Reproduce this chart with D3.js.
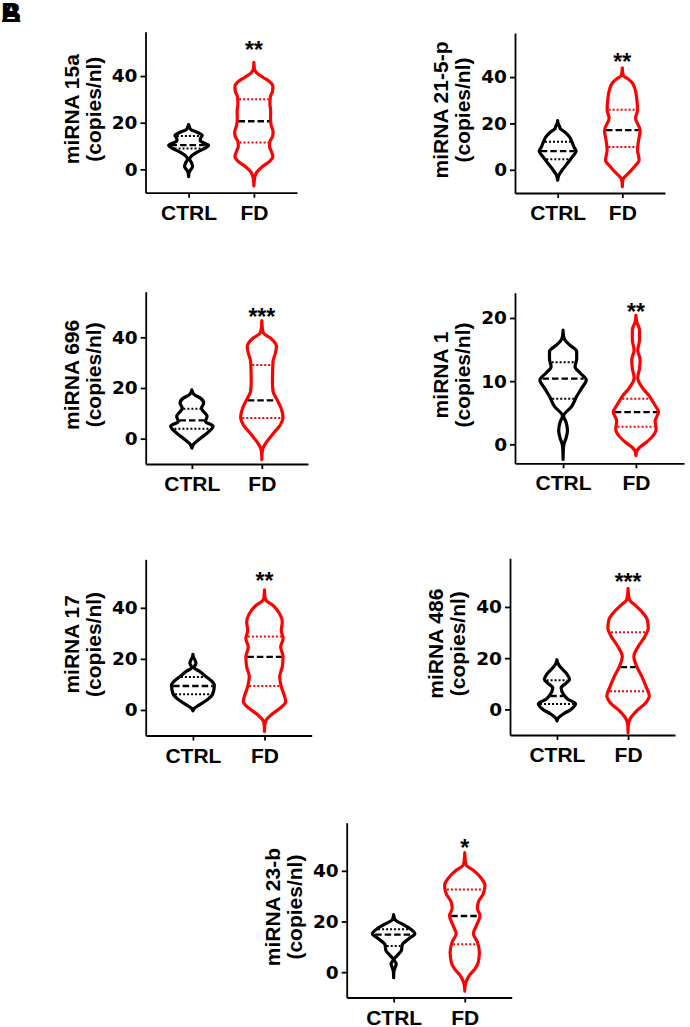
<!DOCTYPE html>
<html>
<head>
<meta charset="utf-8">
<script src="https://cdn.jsdelivr.net/npm/d3@7"></script>
<style>
  body { margin: 0; background: #fff; }
  svg { display: block; }
</style>
</head>
<body>
<div id="vis"></div>
<script>
const width = 690;
const height = 1027;

const groups = ["CTRL", "FD"];
const titles = ["miRNA 15a", "miRNA 21-5-p", "miRNA 696", "miRNA 1", "miRNA 17", "miRNA 486", "miRNA 23-b"];
const stars = ["**", "**", "***", "**", "**", "***", "*"];
const starAt = [53.5, 48.7, 49.9, 21.7, 52.3, 51.8, 50.9];
const yTicks = [[0, 20, 40], [0, 20, 40], [0, 20, 40], [0, 10, 20], [0, 20, 40], [0, 20, 40], [0, 20, 40]];
const yDomains = [[-10, 59], [-10, 59], [-10, 58], [-3, 24], [-10, 59], [-10, 59], [-10, 59]];

// [CTRL, FD]
const q3s = [[14.3, 30.0], [12.1, 25.9], [11.8, 29.1], [13.0, 7.2], [12.9, 28.8], [11.4, 30.1], [16.9, 32.6]];
const medians = [[10.4, 20.6], [8.05, 17.1], [7.2, 15.1], [10.4, 5.1], [9.4, 20.8], [5.2, 16.5], [14.8, 22.2]];
const q1s = [[8.9, 11.5], [4.6, 9.8], [3.9, 8.2], [7.2, 2.8], [6.2, 9.4], [2.1, 7.1], [10.3, 11.0]];

// violin outlines: [value, relative half width]
const ctrlShapes = [
  [[19.2,0],[18.2,0.04],[17.0,0.12],[15.8,0.45],[14.6,0.68],[13.4,0.6],[12.3,0.58],[11.2,0.8],[10.3,1.0],[9.2,0.85],[7.5,0.45],[5.8,0.15],[4.4,0.05],[2.8,0.15],[1.2,0.2],[-0.2,0.1],[-1.5,0.02],[-3.1,0]],
  [[21.2,0],[19.8,0.03],[18.6,0.1],[17.8,0.13],[16.4,0.34],[14.2,0.59],[12.1,0.71],[9.9,0.81],[8.0,0.92],[5.6,0.73],[2.7,0.48],[-0.1,0.23],[-2.3,0.06],[-4.5,0]],
  [[19.3,0],[18.3,0.04],[17.4,0.12],[16.0,0.43],[14.1,0.59],[12.0,0.48],[8.8,0.76],[6.8,0.68],[4.9,1.06],[2.2,0.76],[-0.4,0.34],[-2.1,0.09],[-3.7,0]],
  [[18.1,0],[17.2,0.02],[16.5,0.1],[15.7,0.34],[14.7,0.68],[13.5,0.68],[12.3,0.6],[11.3,0.85],[10.2,1.16],[8.9,0.93],[7.6,0.68],[6.0,0.43],[4.5,0.03],[3.5,0.15],[2.2,0.22],[1.0,0.15],[0,0.04],[-1.0,0.01],[-2.4,0]],
  [[21.8,0],[20.5,0.03],[19.6,0.1],[18.2,0.15],[16.6,0.05],[15.3,0.3],[13.0,0.66],[11.7,0.88],[9.7,1.07],[6.5,1.0],[3.9,0.7],[1.9,0.3],[0.7,0.08],[-0.3,0]],
  [[19.4,0],[18.4,0.03],[17.3,0.1],[15.5,0.3],[13.6,0.52],[11.7,0.63],[10.2,0.45],[8.4,0.21],[5.8,0.34],[3.9,0.56],[2.2,0.93],[0,0.7],[-1.9,0.3],[-3.6,0.04],[-4.5,0]],
  [[22.7,0],[21.5,0.03],[20.4,0.1],[18.7,0.51],[16.5,0.93],[15.2,1.06],[13.2,0.76],[10.8,0.43],[8.6,0.39],[6.6,0.18],[5.0,0.02],[3.3,0.13],[1.6,0.06],[0,0.01],[-2.2,0]]
];
const fdShapes = [
  [[45.9,0],[43.5,0.02],[41.5,0.12],[39.5,0.45],[37.5,0.8],[35.5,0.95],[33.5,0.93],[31,0.82],[28,0.8],[25,0.84],[22,0.83],[19,0.86],[16,0.96],[14,0.93],[12,0.8],[10,0.78],[7.5,0.88],[5.5,0.95],[3.5,0.8],[1,0.4],[-1.5,0.12],[-4,0.03],[-7.1,0]],
  [[44,0],[42,0.02],[40.5,0.06],[39.4,0.26],[37.3,0.51],[35,0.63],[30,0.73],[25.8,0.76],[22.2,0.66],[17.1,0.89],[11.4,0.79],[8.5,0.76],[4.2,0.84],[1.3,0.6],[-1.6,0.29],[-3.7,0.06],[-5.5,0.01],[-7.3,0]],
  [[46.6,0],[44,0.02],[41.7,0.08],[39.7,0.43],[36.4,0.73],[33.8,0.68],[30.5,0.56],[26.6,0.54],[22.6,0.53],[18.7,0.56],[15.4,0.76],[12.1,0.96],[8.4,1.06],[5.5,0.93],[2.2,0.59],[-1.1,0.26],[-3.7,0.06],[-6,0.01],[-8.3,0]],
  [[20.4,0],[19.4,0.04],[18.1,0.18],[16.5,0.18],[14.9,0.09],[13.4,0.21],[12.0,0.18],[10.5,0.09],[8.9,0.34],[7.6,0.68],[6.3,0.93],[5.1,1.13],[3.7,0.96],[2.4,1.01],[1.3,0.84],[0.3,0.51],[-0.5,0.18],[-1.0,0.05],[-1.8,0]],
  [[47,0],[44.5,0.02],[42.9,0.08],[40.9,0.43],[37.7,0.76],[34.4,0.89],[31.2,0.84],[27.9,0.93],[24.7,0.81],[20.8,0.93],[16.9,0.89],[13,0.76],[9.1,0.84],[5.2,1.01],[3.2,1.06],[0.6,0.76],[-1.9,0.34],[-3.9,0.09],[-6,0.01],[-8.4,0]],
  [[47.3,0],[45,0.02],[42.7,0.08],[40.8,0.34],[38.2,0.68],[35,0.96],[31.7,1.01],[28.5,0.84],[24.6,0.51],[20.7,0.29],[16.8,0.43],[13,0.68],[9.1,0.89],[5.2,1.06],[2.6,0.89],[-0.6,0.43],[-3.9,0.09],[-6.5,0.01],[-9.1,0]],
  [[47.2,0],[44.5,0.02],[42.2,0.08],[40.2,0.43],[36.9,0.84],[34.3,1.01],[31,0.93],[27.7,0.68],[25.1,0.63],[22.4,0.76],[18.5,0.59],[15.2,0.43],[11.9,0.63],[7.9,0.73],[4,0.68],[1.3,0.51],[-1.3,0.23],[-4,0.06],[-5.8,0.01],[-7.5,0]]
];

// where each panel sits on the page (pixels)
const panels = [
  { x0: 145.5, x1: 297,   top: 31.7,  bottom: 192.7 },
  { x0: 515,   x1: 665,   top: 33,    bottom: 193 },
  { x0: 145.7, x1: 308,   top: 291.7, bottom: 464 },
  { x0: 515,   x1: 684,   top: 292.7, bottom: 463.3 },
  { x0: 145.7, x1: 311.7, top: 559.3, bottom: 735.5 },
  { x0: 510,   x1: 675,   top: 558.3, bottom: 735 },
  { x0: 346.7, x1: 511.7, top: 822.7, bottom: 997.5 }
];

const colors = { CTRL: "#000", FD: "#ff0000" };
const labelFont = "'Liberation Sans', Arial, sans-serif";
const tickFont = "'DejaVu Sans', sans-serif";

const svg = d3.select("#vis")
  .append("svg")
  .attr("width", width)
  .attr("height", height)
  .style("background", "#fff");

// panel letter
svg.append("text").attr("x", 1).attr("y", 22)
  .attr("font-family", labelFont).attr("font-weight", "bold").attr("font-size", 28)
  .text("A");
svg.append("text").attr("x", 1).attr("y", 22)
  .attr("font-family", labelFont).attr("font-weight", "bold").attr("font-size", 28)
  .text("B");

const wScale = d3.scaleLinear().domain([0, 1]).range([0, 20]);

panels.forEach((p, i) => {
  const g = svg.append("g");

  const x = d3.scalePoint().domain(groups).range([p.x0, p.x1]).padding(0.66);
  const y = d3.scaleLinear().domain(yDomains[i]).range([p.bottom, p.top]);

  const shapes = [ctrlShapes[i], fdShapes[i]];

  groups.forEach((grp, k) => {
    const cx = x(grp);
    const shape = shapes[k];
    const widthAt = d3.scaleLinear().domain(shape.map(d => d[0])).range(shape.map(d => d[1])).clamp(true);

    const area = d3.area()
      .curve(d3.curveMonotoneY)
      .y(d => y(d[0]))
      .x0(d => cx - wScale(d[1]))
      .x1(d => cx + wScale(d[1]));

    g.append("path")
      .datum(shape)
      .attr("d", area)
      .attr("fill", "none")
      .attr("stroke", colors[grp])
      .attr("stroke-width", 3.2)
      .attr("stroke-linejoin", "round");

    const stats = [
      { v: q3s[i][k], kind: "q" },
      { v: medians[i][k], kind: "m" },
      { v: q1s[i][k], kind: "q" }
    ];
    g.selectAll(null)
      .data(stats)
      .enter()
      .append("line")
      .attr("x1", d => cx - Math.max(0, wScale(widthAt(d.v)) - 1.5))
      .attr("x2", d => cx + Math.max(0, wScale(widthAt(d.v)) - 1.5))
      .attr("y1", d => y(d.v))
      .attr("y2", d => y(d.v))
      .attr("stroke", d => d.kind === "m" ? "#000" : colors[grp])
      .attr("stroke-width", d => d.kind === "m" ? 2.4 : 2)
      .attr("stroke-dasharray", d => d.kind === "m" ? "6.5,3" : "2,2");
  });

  // axes
  const yAxis = d3.axisLeft(y).tickValues(yTicks[i]).tickSize(5).tickSizeOuter(0).tickPadding(3);
  const xAxis = d3.axisBottom(x).tickSize(5).tickSizeOuter(0).tickPadding(6);

  const ya = g.append("g")
    .attr("transform", "translate(" + p.x0 + ",0)")
    .call(yAxis);
  ya.selectAll("text")
    .attr("font-family", tickFont).attr("font-weight", "bold").attr("font-size", 18.5).attr("fill", "#000");

  const xa = g.append("g")
    .attr("transform", "translate(0," + p.bottom + ")")
    .call(xAxis);
  xa.selectAll("text")
    .attr("font-family", labelFont).attr("font-weight", "bold").attr("font-size", 21).attr("fill", "#000")
    .attr("dy", null).attr("y", 27);

  g.selectAll(".domain, .tick line").attr("stroke", "#000").attr("stroke-width", 1.8);

  // y title, two lines
  const midY = (p.top + p.bottom) / 2 - 3;
  [titles[i], "(copies/nl)"].forEach((t, j) => {
    g.append("text")
      .attr("transform", "translate(" + (p.x0 - 67 + j * 22) + "," + midY + ") rotate(-90)")
      .attr("text-anchor", "middle")
      .attr("font-family", labelFont).attr("font-weight", "bold").attr("font-size", 21)
      .text(t);
  });

  // significance
  g.append("text")
    .attr("x", x("FD"))
    .attr("y", y(starAt[i]) + 13)
    .attr("text-anchor", "middle")
    .attr("font-family", labelFont).attr("font-weight", "bold").attr("font-size", 23)
    .text(stars[i]);
});
</script>
</body>
</html>
